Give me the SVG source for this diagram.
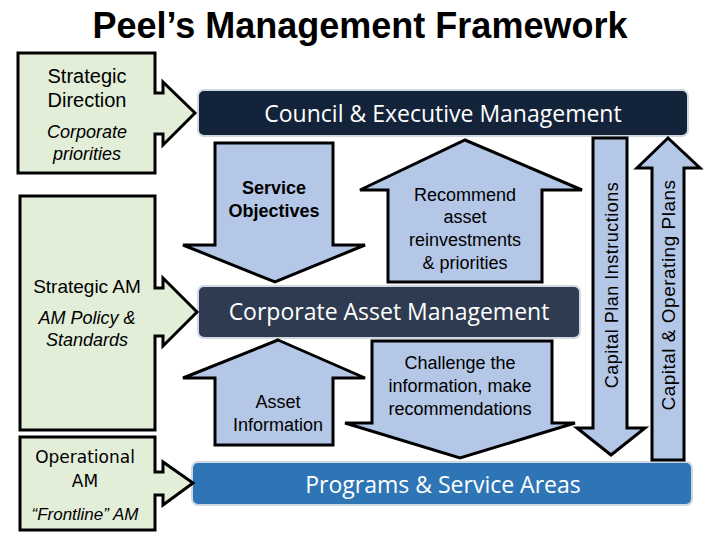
<svg xmlns="http://www.w3.org/2000/svg" width="720" height="540" viewBox="0 0 720 540">
<style>
.g{fill:#e2eed8;stroke:#000;stroke-width:3}
.a{fill:#b4c7e7;stroke:#000;stroke-width:3}
.t{font-family:"Liberation Sans",Arial,sans-serif;font-size:18px;fill:#000;text-anchor:middle}
.i{font-style:italic}
.b{font-weight:bold}
.w{font-family:"Open Sans","DejaVu Sans",sans-serif;font-size:23px;fill:#fff;text-anchor:middle}
</style>
<rect width="720" height="540" fill="#fff"/>
<text x="360" y="38" class="t b" style="font-size:36px">Peel’s Management Framework</text>
<g id="council"><rect x="198" y="90" width="490" height="46" rx="6" fill="#13233a" stroke="#d0d8e2" stroke-width="2"/><text x="443" y="122" class="w">Council &amp; Executive Management</text></g>
<g id="cam"><rect x="198" y="286" width="382" height="52" rx="6" fill="#2e3b50" stroke="#d0d8e2" stroke-width="2"/><text x="389" y="320" class="w">Corporate Asset Management</text></g>
<g id="programs"><rect x="192" y="462" width="500" height="43" rx="6" fill="#2e75b6" stroke="#d0d8e2" stroke-width="2"/><text x="443" y="493" class="w">Programs &amp; Service Areas</text></g>
<g id="strategic-direction"><path class="g" d="M18 53H155V93H163V82L195 113L163 145V134H155V173H18Z"/>
<text x="87" y="83" class="t" style="font-size:20px">Strategic</text><text x="87" y="107" class="t" style="font-size:20px">Direction</text>
<text x="87" y="138" class="t i">Corporate</text><text x="87" y="160" class="t i">priorities</text></g>
<g id="strategic-am"><path class="g" d="M20 196H155V288H163V278L197 312L163 346V336H155V430H20Z"/>
<text x="87" y="293" class="t" style="font-size:19px">Strategic AM</text>
<text x="87" y="324" class="t i">AM Policy &amp;</text><text x="87" y="346" class="t i">Standards</text></g>
<g id="operational-am"><path class="g" d="M20 437H155V472H163V462L193 483L163 505V495H155V530H20Z"/>
<text x="85" y="463" class="t" style="font-family:'DejaVu Sans',sans-serif;font-size:17px">Operational</text><text x="85" y="487" class="t" style="font-family:'DejaVu Sans',sans-serif;font-size:17px">AM</text>
<text x="85" y="520" class="t i" style="font-size:17px">“Frontline” AM</text></g>
<g id="connectors">
<g id="service-objectives"><path class="a" d="M215 143H333V245H365L275 282L183 245H215Z"/><text x="274" y="194" class="t b">Service</text><text x="274" y="217" class="t b">Objectives</text></g>
<g id="recommend"><path class="a" d="M465 140L582 190H542V282H388V190H360Z"/><text x="465" y="201" class="t">Recommend</text><text x="465" y="223" class="t">asset</text><text x="465" y="246" class="t">reinvestments</text><text x="465" y="269" class="t">&amp; priorities</text></g>
<g id="asset-info"><path class="a" d="M278 340L365 378H333V445H215V378H183Z"/><text x="278" y="408" class="t">Asset</text><text x="278" y="431" class="t">Information</text></g>
<g id="challenge"><path class="a" d="M372 341H552V423H575L460 458L345 423H372Z"/><text x="460" y="369" class="t">Challenge the</text><text x="460" y="392" class="t">information, make</text><text x="460" y="415" class="t">recommendations</text></g>
<g id="capital-plan"><path class="a" d="M593 138H627V428H645L611 455L577 428H593Z"/><text transform="translate(618,285) rotate(-90)" class="t" style="font-size:18px;letter-spacing:0.5px">Capital  Plan  Instructions</text></g>
<g id="capital-operating"><path class="a" d="M668 138L700 168H684V460H652V168H637Z"/><text transform="translate(675,295) rotate(-90)" class="t" style="font-size:19px;letter-spacing:0.5px">Capital &amp; Operating Plans</text></g>
</g>
</svg>
